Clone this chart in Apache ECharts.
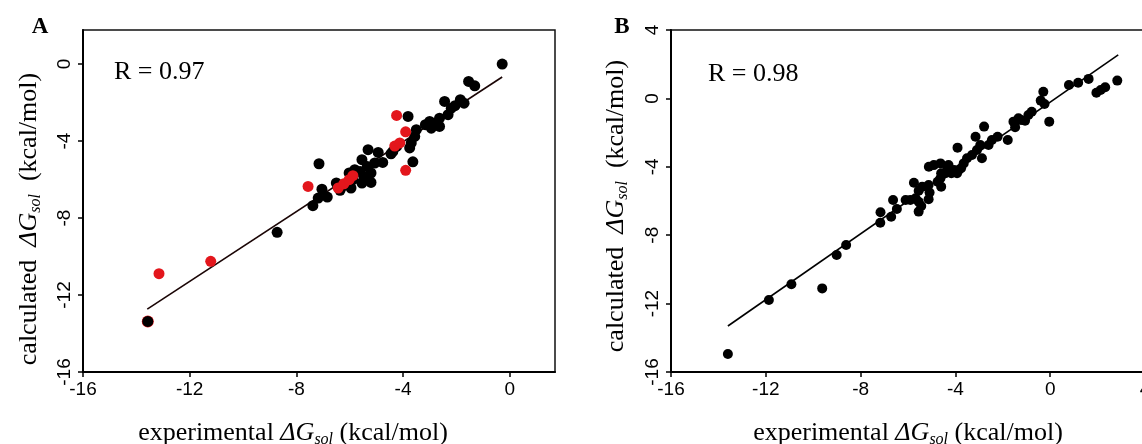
<!DOCTYPE html>
<html>
<head>
<meta charset="utf-8">
<script src="https://cdn.jsdelivr.net/npm/echarts@6/dist/echarts.min.js"></script>
<style>
html, body { margin: 0; padding: 0; background: #fff; }
#main { width: 1142px; height: 444px; }
</style>
</head>
<body>
<div id="main"></div>
<script>
// panel A, black points [experimental, calculated]
const aBlack = [
	[-0.28, 0], [-1.54, -0.9], [-1.31, -1.13], [-2.44, -1.94], [-1.85, -1.85], [-1.71, -2.03],
	[-2.05, -2.16], [-2.19, -2.29], [-2.31, -2.63], [-2.63, -2.81], [-2.81, -3.07], [-3.0, -2.98],
	[-2.63, -3.24], [-2.94, -3.33], [-3.16, -3.15], [-3.81, -2.72], [-3.5, -3.41], [-3.56, -3.76],
	[-3.69, -4.1], [-3.75, -4.36], [-3.63, -5.08], [-4.38, -4.54], [-4.45, -4.66], [-4.24, -4.28],
	[-4.93, -4.59], [-4.76, -5.11], [-5.31, -4.45], [-5.54, -4.97], [-5.34, -5.32], [-5.06, -5.14],
	[-5.2, -5.66], [-5.47, -5.84], [-5.2, -6.15], [-5.54, -6.18], [-5.61, -5.58], [-5.81, -5.49],
	[-6.02, -5.66], [-5.95, -6.44], [-5.88, -6.01], [-6.29, -6.36], [-6.36, -6.56], [-6.5, -6.18],
	[-7.15, -5.18], [-7.04, -6.5], [-7.18, -6.96], [-6.84, -6.91], [-7.38, -7.36], [-8.72, -8.74],
	[-13.57, -13.37]
]
// panel A, red points (drawn over the black ones)
const aRed = [
	[-4.24, -2.67], [-3.9, -3.52], [-4.31, -4.26], [-4.12, -4.1], [-3.9, -5.52], [-7.56, -6.36],
	[-6.43, -6.44], [-6.22, -6.22], [-6.02, -6.01], [-5.88, -5.8], [-11.21, -10.25], [-13.15, -10.89]
]
// red point hidden under a black one
const aRedUnder = [[-13.57, -13.37]]
// panel B points
const bPoints = [
	[-13.6, -14.95], [-11.87, -11.79], [-10.92, -10.87], [-9.62, -11.11], [-9.01, -9.16], [-8.61, -8.57],
	[-7.17, -7.27], [-7.16, -6.66], [-6.71, -6.92], [-6.63, -5.94], [-6.47, -6.47], [-6.1, -5.94],
	[-5.9, -5.94], [-5.75, -4.93], [-5.68, -5.84], [-5.55, -5.4], [-5.55, -6.04], [-5.55, -6.62],
	[-5.44, -6.29], [-5.4, -5.16], [-5.13, -5.9], [-5.09, -5.51], [-5.13, -5.06], [-5.12, -4.0],
	[-4.91, -3.9], [-4.75, -4.87], [-4.63, -3.8], [-4.63, -4.67], [-4.6, -4.38], [-4.6, -5.16],
	[-4.42, -4.38], [-4.35, -4.0], [-4.29, -3.89], [-4.17, -4.38], [-4.06, -4.19], [-3.93, -4.38],
	[-3.91, -2.88], [-3.86, -4.19], [-3.76, -4.09], [-3.65, -3.8], [-3.51, -3.5], [-3.3, -3.31],
	[-3.15, -2.24], [-3.09, -3.02], [-2.95, -2.73], [-2.88, -3.5], [-2.79, -1.65], [-2.6, -2.73],
	[-2.46, -2.43], [-2.22, -2.24], [-1.79, -2.43], [-1.55, -1.36], [-1.48, -1.69], [-1.34, -1.16],
	[-1.23, -1.26], [-1.06, -1.3], [-0.92, -0.97], [-0.78, -0.78], [-0.4, -0.13], [-0.29, 0.39],
	[-0.24, -0.33], [-0.04, -1.36], [0.79, 0.78], [1.18, 0.92], [1.62, 1.14], [1.95, 0.33],
	[2.13, 0.49], [2.32, 0.65], [2.83, 1.04]
]
// fitted lines (end points)
const aFit = [[-13.59, -12.73], [-0.28, -0.67]]
const bFit = [[-13.6, -13.31], [2.87, 2.54]]

// tick labels
const aTicks = [-16, -12, -8, -4, 0]
const bTicks = [-16, -12, -8, -4, 0, 4]

const sans = '"Liberation Sans", Arial, sans-serif'
const serif = '"Liberation Serif", "Times New Roman", serif'

const rich = {
	n: { fontFamily: serif, fontSize: 26, fill: '#000', lineHeight: 30 },
	i: { fontFamily: serif, fontSize: 26, fontStyle: 'italic', fill: '#000', lineHeight: 30 },
	s: { fontFamily: serif, fontSize: 16, fontStyle: 'italic', fill: '#000', verticalAlign: 'bottom', lineHeight: 16 }
}

const makeX = (grid, min, max, ticks) => ({
	gridIndex: grid, type: 'value', min: min, max: max,
	axisLine: { onZero: false, lineStyle: { color: '#000', width: 2 } },
	axisTick: { customValues: ticks, length: 5, lineStyle: { color: '#000', width: 1.5 } },
	axisLabel: { customValues: ticks, margin: 8, fontFamily: sans, fontSize: 19, color: '#000' },
	splitLine: { show: false }
})
const makeY = (grid, min, max, ticks) => ({
	gridIndex: grid, type: 'value', min: min, max: max,
	axisLine: { onZero: false, lineStyle: { color: '#000', width: 2 } },
	axisTick: { customValues: ticks, length: 5, lineStyle: { color: '#000', width: 1.5 } },
	axisLabel: { customValues: ticks, rotate: 90, margin: 9, fontFamily: sans, fontSize: 19, color: '#000' },
	splitLine: { show: false }
})

const option = {
	animation: false,
	backgroundColor: '#fff',
	grid: [
		{ left: 83, top: 30, width: 472, height: 342, outerBoundsMode: 'none', show: true, borderColor: '#111', borderWidth: 1.5 },
		{ left: 671, top: 30, width: 474, height: 342, outerBoundsMode: 'none', show: true, borderColor: '#111', borderWidth: 1.5 }
	],
	xAxis: [makeX(0, -16, 1.7, aTicks), makeX(1, -16, 4, bTicks)],
	yAxis: [makeY(0, -16, 1.77, aTicks), makeY(1, -16, 4, bTicks)],
	series: [
		{
			type: 'line', xAxisIndex: 0, yAxisIndex: 0, data: aFit, showSymbol: false,
			lineStyle: { color: '#1a0505', width: 1.6 }, z: 1
		},
		{
			type: 'scatter', xAxisIndex: 0, yAxisIndex: 0, data: aRedUnder, symbolSize: 12,
			itemStyle: { color: '#e3161c', opacity: 1 }, z: 2
		},
		{
			type: 'scatter', xAxisIndex: 0, yAxisIndex: 0, data: aBlack, symbolSize: 11,
			itemStyle: { color: '#000', opacity: 1 }, z: 3
		},
		{
			type: 'scatter', xAxisIndex: 0, yAxisIndex: 0, data: aRed, symbolSize: 11,
			itemStyle: { color: '#e3161c', opacity: 1 }, z: 4
		},
		{
			type: 'line', xAxisIndex: 1, yAxisIndex: 1, data: bFit, showSymbol: false,
			lineStyle: { color: '#000', width: 1.6 }, z: 1
		},
		{
			type: 'scatter', xAxisIndex: 1, yAxisIndex: 1, data: bPoints, symbolSize: 10,
			itemStyle: { color: '#000', opacity: 1 }, z: 3
		}
	],
	graphic: [
		{ type: 'text', x: 40, y: 27, style: { text: 'A', font: 'bold 23px ' + serif, fill: '#000', align: 'center', verticalAlign: 'middle' } },
		{ type: 'text', x: 622, y: 27, style: { text: 'B', font: 'bold 23px ' + serif, fill: '#000', align: 'center', verticalAlign: 'middle' } },
		{ type: 'text', x: 114, y: 72, style: { text: 'R = 0.97', font: '26px ' + serif, fill: '#000', align: 'left', verticalAlign: 'middle' } },
		{ type: 'text', x: 708, y: 74, style: { text: 'R = 0.98', font: '26px ' + serif, fill: '#000', align: 'left', verticalAlign: 'middle' } },
		{ type: 'text', x: 293, y: 433, style: { text: '{n|experimental }{i|ΔG}{s|sol}{n| (kcal/mol)}', rich: rich, align: 'center', verticalAlign: 'middle' } },
		{ type: 'text', x: 908, y: 433, style: { text: '{n|experimental }{i|ΔG}{s|sol}{n| (kcal/mol)}', rich: rich, align: 'center', verticalAlign: 'middle' } },
		{ type: 'text', x: 29, y: 219, rotation: Math.PI / 2, style: { text: '{n|calculated  }{i|ΔG}{s|sol}{n|  (kcal/mol)}', rich: rich, align: 'center', verticalAlign: 'middle' } },
		{ type: 'text', x: 616, y: 206, rotation: Math.PI / 2, style: { text: '{n|calculated  }{i|ΔG}{s|sol}{n|  (kcal/mol)}', rich: rich, align: 'center', verticalAlign: 'middle' } }
	]
}

const myChart = echarts.init(document.getElementById('main'))
myChart.setOption(option)
</script>
</body>
</html>
